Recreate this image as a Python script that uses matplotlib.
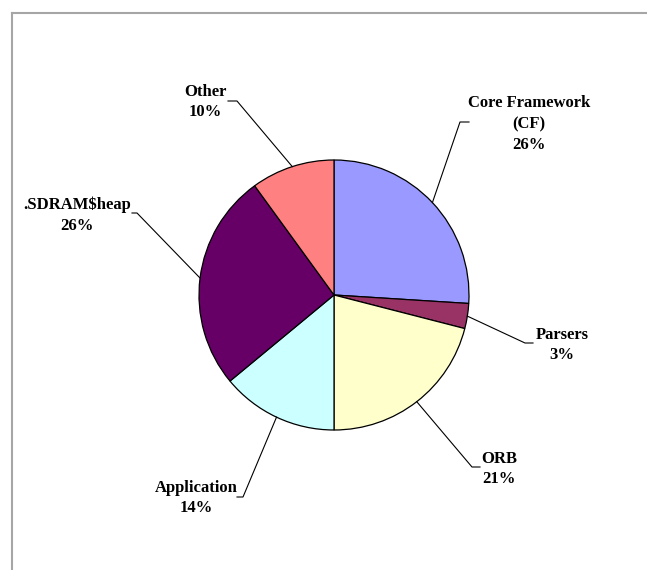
import matplotlib
matplotlib.use("Agg")
import matplotlib.pyplot as plt
import numpy as np
from matplotlib.lines import Line2D

# data
labels = ["Core Framework\n(CF)", "Parsers", "ORB", "Application", ".SDRAM$heap", "Other"]
percents = [26, 3, 21, 14, 26, 10]
colors = ["#9999FF", "#993366", "#FFFFCC", "#CCFFFF", "#660066", "#FF8080"]

W, H = 647, 570

# label layout in pixels (top-left origin): text centre, elbow, end of horizontal tick
label_pos = [(529, 124), (562, 345), (499, 469), (196, 498), (77, 215), (205, 102)]
elbows = [(460, 122), (525, 343), (472, 467), (243, 497), (137, 213), (237, 101)]
tick_ends = [(469, 122), (533, 343), (480, 467), (237, 497), (132, 213), (228, 101)]

plt.rcParams['font.family'] = ['Liberation Serif', 'DejaVu Serif']

fig = plt.figure(figsize=(W / 100, H / 100), dpi=100)
ax = fig.add_axes([0, 0, 1, 1])

cx, cy, r = 334, H - 295, 135
wedges, _ = ax.pie(percents, colors=colors, startangle=90, counterclock=False,
                   center=(cx, cy), radius=r,
                   wedgeprops=dict(edgecolor="black", linewidth=0.9))

ax.set_xlim(0, W)
ax.set_ylim(0, H)
ax.set_aspect('auto')
ax.axis('off')

for w, lab, pct, tp, el, te in zip(wedges, labels, percents, label_pos, elbows, tick_ends):
    mid = np.deg2rad((w.theta1 + w.theta2) / 2)
    ex, ey = cx + r * np.cos(mid), cy + r * np.sin(mid)
    ax.plot([ex, el[0], te[0]], [ey, H - el[1], H - te[1]], color="black", lw=0.8)
    ax.text(tp[0], H - tp[1], f"{lab}\n{pct}%", ha="center", va="center",
            fontsize=12, fontweight="bold", linespacing=1.4, color="black")

# grey frame at top and left
fig.add_artist(Line2D([12 / W, 1], [1 - 13 / H, 1 - 13 / H], color="#A6A6A6", lw=1.5))
fig.add_artist(Line2D([12 / W, 12 / W], [0, 1 - 13 / H], color="#A6A6A6", lw=1.5))

fig.savefig("out.png", dpi=100)
